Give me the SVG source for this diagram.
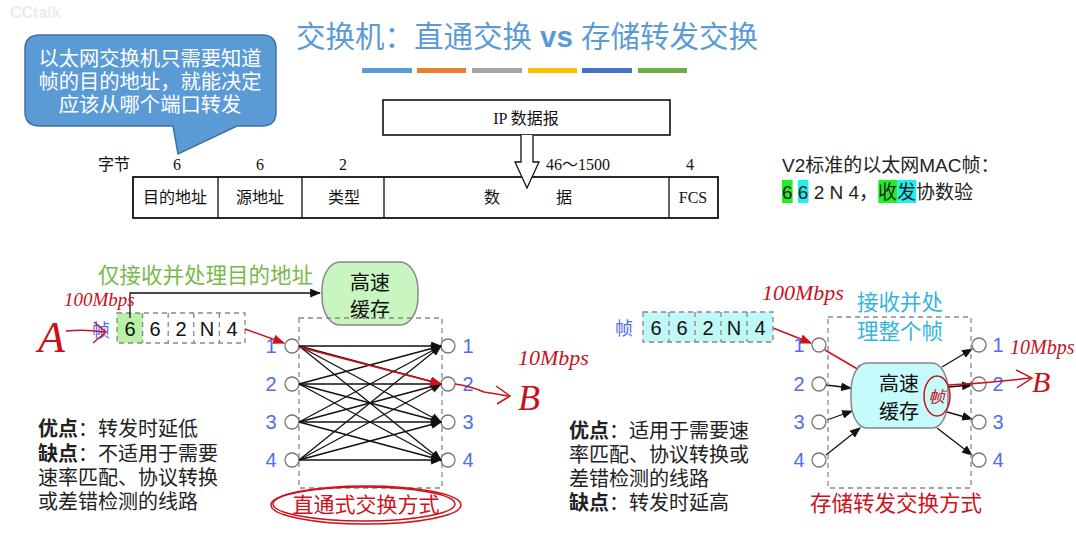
<svg xmlns="http://www.w3.org/2000/svg" width="1076" height="542" viewBox="0 0 1076 542">
<style>
.cjk{font-family:"Liberation Sans","Noto Sans CJK SC",sans-serif}
.ser{font-family:"Liberation Serif","Noto Sans CJK SC",serif;font-size:16px;fill:#111}
.port{font-family:"Liberation Sans","Noto Sans CJK SC",sans-serif;font-size:20px;fill:#4f6df0}
.pc{fill:#fff;stroke:#777;stroke-width:1.3}
.dash{fill:none;stroke:#888;stroke-width:1.3;stroke-dasharray:5,4}
.ln{stroke:#111;stroke-width:1.3;fill:none}
.red{stroke:#d0101a;stroke-width:1.5;fill:none}
.hand{font-family:"Liberation Serif",serif;font-style:italic;fill:#c8101c}
.body{font-family:"Liberation Sans","Noto Sans CJK SC",sans-serif;font-size:20px;fill:#222}
.dig{font-family:"Liberation Sans",sans-serif;font-size:20px;fill:#111;text-anchor:middle}
</style>
<defs>
<marker id="ah" viewBox="0 0 10 8" refX="9" refY="4" markerWidth="11" markerHeight="9" markerUnits="userSpaceOnUse" orient="auto"><path d="M0,0 L10,4 L0,8 Z" fill="#111"/></marker>
<marker id="ahr" viewBox="0 0 10 8" refX="9" refY="4" markerWidth="12" markerHeight="10" markerUnits="userSpaceOnUse" orient="auto"><path d="M0,0 L10,4 L0,8 Z" fill="#d0101a"/></marker>
</defs>
<rect width="1076" height="542" fill="#fff"/>
<text x="10" y="18" font-family="Liberation Sans,sans-serif" font-size="16" font-weight="bold" fill="#ececec">CCtalk</text>

<g id="title">
<text x="527" y="47" text-anchor="middle" class="cjk" font-size="29.5" fill="#5b9bd5">交换机：直通交换 <tspan font-weight="bold">vs</tspan> 存储转发交换</text>
<rect x="362" y="68" width="50" height="5" fill="#5b9bd5"/>
<rect x="417" y="68" width="49" height="5" fill="#ed7d31"/>
<rect x="472" y="68" width="50" height="5" fill="#a5a5a5"/>
<rect x="528" y="68" width="49" height="5" fill="#ffc000"/>
<rect x="582" y="68" width="50" height="5" fill="#4472c4"/>
<rect x="638" y="68" width="49" height="5" fill="#70ad47"/>
</g>

<g id="callout">
<path d="M40,35 H262 Q276,35 276,49 V112 Q276,126 262,126 H237 L178,154 L173,126 H40 Q25,126 25,112 V49 Q25,35 40,35 Z" fill="#5b9bd5" stroke="#41719c" stroke-width="1.5"/>
<text x="150" y="66" text-anchor="middle" class="cjk" font-size="20.3" fill="#fff">以太网交换机只需要知道</text>
<text x="150" y="89" text-anchor="middle" class="cjk" font-size="20.3" fill="#fff">帧的目的地址，就能决定</text>
<text x="150" y="112" text-anchor="middle" class="cjk" font-size="20.3" fill="#fff">应该从哪个端口转发</text>
</g>

<g id="ip-datagram">
<rect x="383" y="100" width="287" height="35" fill="#fff" stroke="#111" stroke-width="1.6"/>
<text x="526" y="124" text-anchor="middle" class="ser">IP 数据报</text>
</g>

<g id="mac-frame">
<text x="98" y="170" class="ser" font-size="17">字节</text>
<text x="177" y="170" text-anchor="middle" class="ser">6</text>
<text x="260" y="170" text-anchor="middle" class="ser">6</text>
<text x="343" y="170" text-anchor="middle" class="ser">2</text>
<text x="546" y="170" class="ser">46～1500</text>
<text x="690" y="170" text-anchor="middle" class="ser">4</text>
<rect x="133" y="177" width="585" height="41" fill="#fff" stroke="#111" stroke-width="1.8"/>
<path d="M218,177 V218 M302,177 V218 M384,177 V218 M669,177 V218" stroke="#111" stroke-width="1.3"/>
<text x="175" y="203" text-anchor="middle" class="ser">目的地址</text>
<text x="260" y="203" text-anchor="middle" class="ser">源地址</text>
<text x="344" y="203" text-anchor="middle" class="ser">类型</text>
<text x="492" y="203" text-anchor="middle" class="ser">数</text>
<text x="564" y="203" text-anchor="middle" class="ser">据</text>
<text x="693" y="203" text-anchor="middle" class="ser">FCS</text>
<path d="M521,135 V162 H515 L527,188 L539,162 H533 V135" fill="#fff" stroke="#111" stroke-width="1.3"/>
</g>

<g id="v2-note">
<text x="782" y="172" class="cjk" font-size="19" fill="#222">V2标准的以太网MAC帧：</text>
<rect x="782" y="180" width="10.6" height="23" fill="#22ee22"/>
<rect x="797.9" y="180" width="10.6" height="23" fill="#22eeee"/>
<rect x="878.3" y="180" width="19" height="23" fill="#22ee22"/>
<rect x="897.3" y="180" width="19" height="23" fill="#22eeee"/>
<text x="782" y="199" class="cjk" font-size="19" fill="#222" xml:space="preserve">6 6 2 N 4，收发协数验</text>
</g>

<!-- LEFT: cut-through -->
<g id="left-label">
<text x="98" y="283" class="cjk" font-size="21.5" fill="#77b94a">仅接收并处理目的地址</text>
</g>
<g id="left-frame">
<text x="92" y="337" class="cjk" font-size="18" fill="#4f6df0">帧</text>
<rect x="117" y="313" width="25.6" height="30" fill="#b8f0a8"/>
<rect x="117" y="313" width="128" height="30" class="dash"/>
<path d="M142.6,313 V343 M168.2,313 V343 M193.8,313 V343 M219.4,313 V343" class="dash"/>
<text x="130" y="336" class="dig">6</text>
<text x="155" y="336" class="dig">6</text>
<text x="181" y="336" class="dig">2</text>
<text x="207" y="336" class="dig">N</text>
<text x="232" y="336" class="dig">4</text>
</g>
<g id="left-cache">
<rect x="322" y="262" width="96" height="63" rx="18" ry="28" fill="#c8f5c0" stroke="#888" stroke-width="1.5"/>
<text x="370" y="290" text-anchor="middle" class="cjk" font-size="20" fill="#111">高速</text>
<text x="370" y="317" text-anchor="middle" class="cjk" font-size="20" fill="#111">缓存</text>
</g>
<g id="left-switch">
<rect x="299" y="318" width="143" height="170" class="dash"/>
<circle cx="292" cy="346" r="7" class="pc"/><circle cx="292" cy="384" r="7" class="pc"/><circle cx="292" cy="422" r="7" class="pc"/><circle cx="292" cy="460" r="7" class="pc"/>
<circle cx="448" cy="346" r="7" class="pc"/><circle cx="448" cy="384" r="7" class="pc"/><circle cx="448" cy="422" r="7" class="pc"/><circle cx="448" cy="460" r="7" class="pc"/>
<text x="271" y="353" text-anchor="middle" class="port">1</text><text x="271" y="391" text-anchor="middle" class="port">2</text><text x="271" y="429" text-anchor="middle" class="port">3</text><text x="271" y="467" text-anchor="middle" class="port">4</text>
<text x="468" y="353" text-anchor="middle" class="port">1</text><text x="468" y="391" text-anchor="middle" class="port">2</text><text x="468" y="429" text-anchor="middle" class="port">3</text><text x="468" y="467" text-anchor="middle" class="port">4</text>
<text x="366" y="512" text-anchor="middle" class="cjk" font-size="21" fill="#d0101a">直通式交换方式</text>
</g>

<g id="connectors">
<path d="M130,318 V293 H320" class="ln" marker-end="url(#ah)"/>
<g marker-end="url(#ah)" class="ln">
<line x1="299" y1="346" x2="441" y2="346"/><line x1="299" y1="346" x2="441" y2="384"/><line x1="299" y1="346" x2="441" y2="422"/><line x1="299" y1="346" x2="441" y2="460"/>
<line x1="299" y1="384" x2="441" y2="346"/><line x1="299" y1="384" x2="441" y2="384"/><line x1="299" y1="384" x2="441" y2="422"/><line x1="299" y1="384" x2="441" y2="460"/>
<line x1="299" y1="422" x2="441" y2="346"/><line x1="299" y1="422" x2="441" y2="384"/><line x1="299" y1="422" x2="441" y2="422"/><line x1="299" y1="422" x2="441" y2="460"/>
<line x1="299" y1="460" x2="441" y2="346"/><line x1="299" y1="460" x2="441" y2="384"/><line x1="299" y1="460" x2="441" y2="422"/><line x1="299" y1="460" x2="441" y2="460"/>
</g>
<line x1="245" y1="329" x2="284" y2="343" class="red" marker-end="url(#ahr)"/>
<line x1="299" y1="347" x2="441" y2="384" class="red" marker-end="url(#ahr)"/>
<line x1="773" y1="328" x2="811" y2="343" class="red" marker-end="url(#ahr)"/>
<line x1="825" y1="350" x2="866" y2="374" class="red" marker-end="url(#ahr)"/>
<line x1="826" y1="385" x2="851" y2="388" class="ln" marker-end="url(#ah)"/>
<line x1="827" y1="420" x2="852" y2="411" class="ln" marker-end="url(#ah)"/>
<line x1="826" y1="455" x2="860" y2="428" class="ln" marker-end="url(#ah)"/>
<line x1="942" y1="367" x2="972" y2="349" class="ln" marker-end="url(#ah)"/>
<line x1="948" y1="387" x2="972" y2="385" class="ln" marker-end="url(#ah)"/>
<line x1="947" y1="412" x2="972" y2="419" class="ln" marker-end="url(#ah)"/>
<line x1="937" y1="428" x2="972" y2="455" class="ln" marker-end="url(#ah)"/>
</g>

<g id="left-text">
<text x="38" y="436" class="body"><tspan font-weight="bold">优点</tspan>：转发时延低</text>
<text x="38" y="461" class="body"><tspan font-weight="bold">缺点</tspan>：不适用于需要</text>
<text x="38" y="485" class="body">速率匹配、协议转换</text>
<text x="38" y="509" class="body">或差错检测的线路</text>
</g>

<!-- RIGHT: store-and-forward -->
<g id="right-frame">
<text x="615" y="335" class="cjk" font-size="18" fill="#4f6df0">帧</text>
<rect x="643" y="312" width="130" height="30" fill="#c0f8f8"/>
<rect x="643" y="312" width="130" height="30" class="dash"/>
<path d="M669,312 V342 M695,312 V342 M721,312 V342 M747,312 V342" class="dash"/>
<text x="656" y="335" class="dig">6</text>
<text x="682" y="335" class="dig">6</text>
<text x="708" y="335" class="dig">2</text>
<text x="734" y="335" class="dig">N</text>
<text x="760" y="335" class="dig">4</text>
</g>
<g id="right-label">
<text x="900" y="310" text-anchor="middle" class="cjk" font-size="21.5" fill="#33b5dd">接收并处</text>
<text x="900" y="339" text-anchor="middle" class="cjk" font-size="21.5" fill="#33b5dd">理整个帧</text>
</g>
<g id="right-switch">
<rect x="828" y="317" width="143" height="171" class="dash"/>
<circle cx="819" cy="345" r="7" class="pc"/><circle cx="819" cy="384" r="7" class="pc"/><circle cx="819" cy="422" r="7" class="pc"/><circle cx="819" cy="460" r="7" class="pc"/>
<circle cx="979" cy="345" r="7" class="pc"/><circle cx="979" cy="384" r="7" class="pc"/><circle cx="979" cy="422" r="7" class="pc"/><circle cx="979" cy="460" r="7" class="pc"/>
<text x="799" y="352" text-anchor="middle" class="port">1</text><text x="799" y="391" text-anchor="middle" class="port">2</text><text x="799" y="429" text-anchor="middle" class="port">3</text><text x="799" y="467" text-anchor="middle" class="port">4</text>
<text x="998" y="352" text-anchor="middle" class="port">1</text><text x="998" y="391" text-anchor="middle" class="port">2</text><text x="998" y="429" text-anchor="middle" class="port">3</text><text x="998" y="467" text-anchor="middle" class="port">4</text>
<text x="896" y="511" text-anchor="middle" class="cjk" font-size="21.5" fill="#d0101a">存储转发交换方式</text>
</g>
<g id="right-cache">
<rect x="851" y="363" width="97" height="65" rx="16" ry="28" fill="#c6fbfb" stroke="#888" stroke-width="1.5"/>
<text x="899" y="391" text-anchor="middle" class="cjk" font-size="20" fill="#111">高速</text>
<text x="899" y="419" text-anchor="middle" class="cjk" font-size="20" fill="#111">缓存</text>
</g>
<g id="right-text">
<text x="569" y="438" class="body"><tspan font-weight="bold">优点</tspan>：适用于需要速</text>
<text x="569" y="462" class="body">率匹配、协议转换或</text>
<text x="569" y="486" class="body">差错检测的线路</text>
<text x="569" y="510" class="body"><tspan font-weight="bold">缺点</tspan>：转发时延高</text>
</g>

<g id="annotations">
<text x="64" y="306" class="hand" font-size="19">100Mbps</text>
<text x="38" y="352" class="hand" font-size="44">A</text>
<path d="M66,331 Q85,329 104,332 M94,322 L106,332 L93,343" class="red" stroke-width="2.4"/>
<ellipse cx="366" cy="505" rx="95" ry="19" class="red" stroke-width="2"/>
<ellipse cx="364" cy="504" rx="91" ry="17" class="red" stroke-width="1"/>
<text x="518" y="365" class="hand" font-size="22">10Mbps</text>
<path d="M455,384 Q470,386 484,392 Q497,394 508,396" class="red" stroke-width="2.2"/>
<path d="M496,386 L510,396 L497,404" class="red" stroke-width="2.2"/>
<text x="518" y="410" class="hand" font-size="36">B</text>
<text x="762" y="300" class="hand" font-size="22">100Mbps</text>
<text x="1010" y="354" class="hand" font-size="20">10Mbps</text>
<path d="M948,385 Q990,383 1030,378" class="red" stroke-width="2.2"/>
<path d="M1016,370 L1032,378 L1017,388" class="red" stroke-width="2.2"/>
<text x="1032" y="392" class="hand" font-size="30">B</text>
<ellipse cx="937" cy="396" rx="13" ry="20" class="red" stroke-width="1.8"/>
<text x="937" y="402" text-anchor="middle" class="hand" font-size="16">帧</text>
</g>
</svg>
